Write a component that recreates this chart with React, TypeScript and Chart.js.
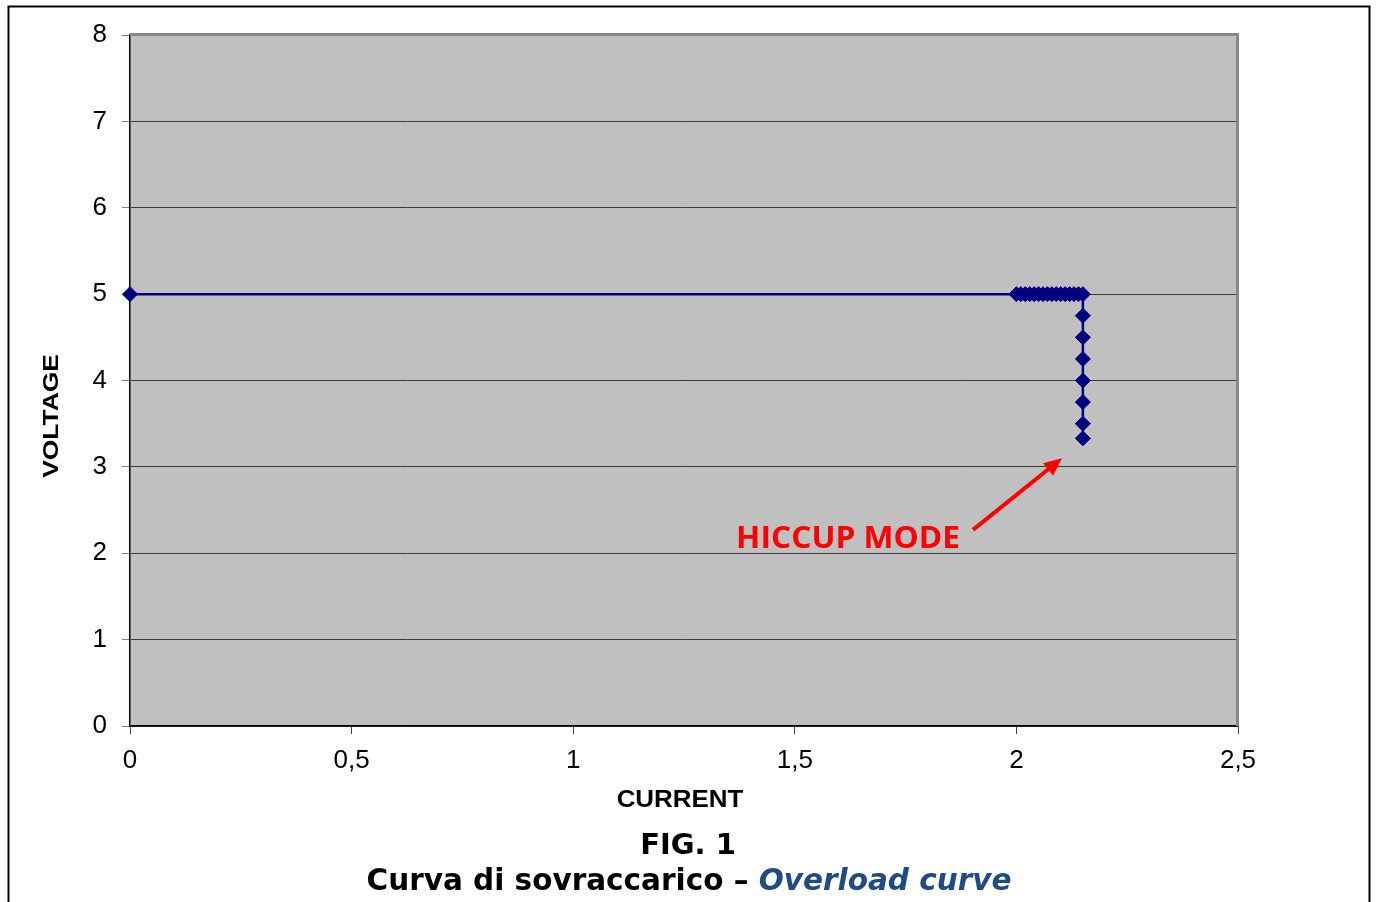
import React, { useEffect, useRef } from 'react';
import { Chart, registerables } from 'chart.js';

Chart.register(...registerables);

// ---- Data ----
const currentValues = [
  0,
  2.0, 2.01, 2.02, 2.03, 2.04, 2.05, 2.06, 2.07, 2.08, 2.09, 2.1, 2.11, 2.12, 2.13, 2.14, 2.15,
  2.15, 2.15, 2.15, 2.15, 2.15, 2.15, 2.15,
];
const voltageValues = [
  5,
  5, 5, 5, 5, 5, 5, 5, 5, 5, 5, 5, 5, 5, 5, 5, 5,
  4.75, 4.5, 4.25, 4.0, 3.75, 3.5, 3.33,
];
const xTickLabels = ['0', '0,5', '1', '1,5', '2', '2,5'];
const yTickLabels = ['0', '1', '2', '3', '4', '5', '6', '7', '8'];
const xAxisTitle = 'CURRENT';
const yAxisTitle = 'VOLTAGE';
const figTitle = 'FIG. 1';
const captionItalian = 'Curva di sovraccarico \u2013 ';
const captionEnglish = 'Overload curve';
const annotationText = 'HICCUP MODE';

// annotation anchors in data units
const annotationLabelAt = { x: 1.873, y: 2.06 };
const arrowFrom = { x: 1.902, y: 2.27 };
const arrowTo = { x: 2.103, y: 3.1 };

const W = 1377;
const H = 902;

const decorPlugin = {
  id: 'decor',
  beforeDraw(chart: any) {
    const { ctx, chartArea: a } = chart;
    ctx.save();
    ctx.fillStyle = '#ffffff';
    ctx.fillRect(0, 0, chart.width, chart.height);
    ctx.fillStyle = '#c0c0c0';
    ctx.fillRect(a.left, a.top, a.right - a.left, a.bottom - a.top);
    ctx.restore();
  },
  beforeDatasetsDraw(chart: any) {
    const { ctx, chartArea: a } = chart;
    ctx.save();
    ctx.fillStyle = '#878787';
    ctx.fillRect(a.left, a.top - 2, a.right - a.left + 1, 3);
    ctx.fillRect(a.right - 2, a.top - 2, 3, a.bottom - a.top + 2);
    ctx.restore();
  },
  afterDraw(chart: any) {
    const { ctx, scales } = chart;
    const xs = scales.x;
    const ys = scales.y;
    ctx.save();

    // outer frame
    ctx.strokeStyle = '#000';
    ctx.lineWidth = 2;
    ctx.beginPath();
    ctx.moveTo(8.5, H + 5);
    ctx.lineTo(8.5, 6.5);
    ctx.lineTo(1369.5, 6.5);
    ctx.lineTo(1369.5, H + 5);
    ctx.stroke();

    // y axis title (rotated, stretched)
    ctx.fillStyle = '#000';
    ctx.save();
    ctx.translate(58, 416);
    ctx.rotate(-Math.PI / 2);
    ctx.font = 'bold 22px "Liberation Sans", Arial, sans-serif';
    ctx.textAlign = 'center';
    ctx.textBaseline = 'alphabetic';
    ctx.scale(1.2, 1);
    ctx.fillText(yAxisTitle, 0, 0);
    ctx.restore();

    // x axis title
    ctx.save();
    ctx.translate(680, 807);
    ctx.font = 'bold 24px "Liberation Sans", Arial, sans-serif';
    ctx.textAlign = 'center';
    ctx.textBaseline = 'alphabetic';
    ctx.scale(1.08, 1);
    ctx.fillText(xAxisTitle, 0, 0);
    ctx.restore();

    // FIG. 1
    ctx.font = 'bold 29px "DejaVu Sans", Verdana, sans-serif';
    ctx.textAlign = 'center';
    ctx.fillText(figTitle, 688, 854);

    // caption
    const f1 = 'bold 29.5px "DejaVu Sans", Verdana, sans-serif';
    const f2 = 'italic bold 29.5px "DejaVu Sans", Verdana, sans-serif';
    ctx.textAlign = 'left';
    ctx.font = f1;
    const w1 = ctx.measureText(captionItalian).width;
    ctx.font = f2;
    const w2 = ctx.measureText(captionEnglish).width;
    const start = 689 - (w1 + w2) / 2;
    ctx.font = f1;
    ctx.fillStyle = '#000';
    ctx.fillText(captionItalian, start, 890);
    ctx.font = f2;
    ctx.fillStyle = '#1f4b86';
    ctx.fillText(captionEnglish, start + w1, 890);

    // HICCUP MODE annotation
    const lx = xs.getPixelForValue(annotationLabelAt.x);
    const ly = ys.getPixelForValue(annotationLabelAt.y);
    ctx.save();
    ctx.fillStyle = '#ff0000';
    ctx.font = 'bold 30px "Open Sans", sans-serif';
    ctx.textAlign = 'right';
    ctx.textBaseline = 'alphabetic';
    const tw = ctx.measureText(annotationText).width;
    const sx = 224 / tw;
    ctx.translate(lx, ly);
    ctx.scale(sx, 1);
    ctx.fillText(annotationText, 0, 0);
    ctx.restore();

    // arrow
    const ax0 = xs.getPixelForValue(arrowFrom.x);
    const ay0 = ys.getPixelForValue(arrowFrom.y);
    const ax1 = xs.getPixelForValue(arrowTo.x);
    const ay1 = ys.getPixelForValue(arrowTo.y);
    const ang = Math.atan2(ay1 - ay0, ax1 - ax0);
    const headLen = 18;
    const headW = 8;
    const bx = ax1 - headLen * Math.cos(ang);
    const by = ay1 - headLen * Math.sin(ang);
    ctx.strokeStyle = '#ff0000';
    ctx.fillStyle = '#ff0000';
    ctx.lineWidth = 4;
    ctx.beginPath();
    ctx.moveTo(ax0, ay0);
    ctx.lineTo(bx + 2 * Math.cos(ang), by + 2 * Math.sin(ang));
    ctx.stroke();
    ctx.beginPath();
    ctx.moveTo(ax1, ay1);
    ctx.lineTo(bx + headW * Math.sin(ang), by - headW * Math.cos(ang));
    ctx.lineTo(bx - headW * Math.sin(ang), by + headW * Math.cos(ang));
    ctx.closePath();
    ctx.fill();

    ctx.restore();
  },
};

export default function App() {
  const canvasRef = useRef<HTMLCanvasElement | null>(null);

  useEffect(() => {
    const canvas = canvasRef.current;
    if (!canvas) return;
    const points = currentValues.map((x, i) => ({ x, y: voltageValues[i] }));
    const tickFont = { family: '"Liberation Sans", Arial, sans-serif', size: 26 };
    const chart = new Chart(canvas, {
      type: 'scatter',
      data: {
        datasets: [
          {
            data: points,
            showLine: true,
            borderColor: '#000080',
            backgroundColor: '#000080',
            borderWidth: 2.5,
            pointStyle: 'rectRot',
            pointRadius: 7.5,
            pointBorderWidth: 1,
            pointBorderColor: '#000080',
            pointBackgroundColor: '#000080',
            tension: 0,
            clip: false,
          } as any,
        ],
      },
      options: {
        animation: false,
        responsive: true,
        maintainAspectRatio: false,
        layout: { padding: { left: 0, top: 35, right: 139, bottom: 76 } },
        plugins: {
          legend: { display: false },
          tooltip: { enabled: false },
          title: { display: false },
        },
        scales: {
          x: {
            type: 'linear',
            min: 0,
            max: 2.5,
            afterFit: (s: any) => {
              s.height = 100;
            },
            ticks: {
              stepSize: 0.5,
              padding: 11,
              color: '#000',
              font: tickFont,
              maxRotation: 0,
              autoSkip: false,
              callback: (_v: any, i: number) => xTickLabels[i],
            },
            grid: {
              drawOnChartArea: false,
              drawTicks: true,
              tickLength: 8,
              tickColor: '#444',
            },
            border: { color: '#000', width: 1.5 },
          },
          y: {
            type: 'linear',
            min: 0,
            max: 8,
            afterFit: (s: any) => {
              s.width = 130;
            },
            ticks: {
              stepSize: 1,
              padding: 15,
              color: '#000',
              font: tickFont,
              autoSkip: false,
              callback: (_v: any, i: number) => yTickLabels[i],
            },
            grid: {
              color: '#3a3a3a',
              lineWidth: 1,
              drawTicks: true,
              tickLength: 8,
              tickColor: '#808080',
            },
            border: { color: '#000', width: 1.5 },
          },
        },
      } as any,
      plugins: [decorPlugin],
    });
    return () => chart.destroy();
  }, []);

  return (
    <div style={{ position: 'absolute', left: 0, top: 0, width: W, height: H }}>
      <canvas ref={canvasRef} />
    </div>
  );
}
